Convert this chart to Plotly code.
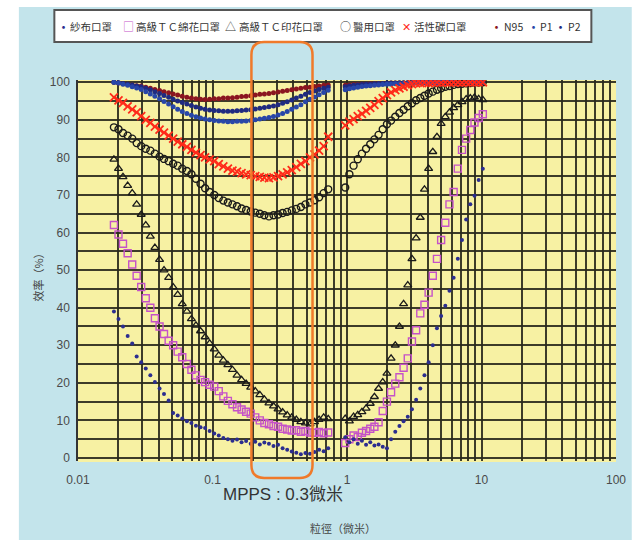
import plotly.graph_objects as go

# ---------------- data ----------------
X_LEFT = [0.0185, 0.0200, 0.0216, 0.0234, 0.0253, 0.0273, 0.0295, 0.0319, 0.0345, 0.0373, 0.0404, 0.0436,
          0.0472, 0.0510, 0.0551, 0.0596, 0.0645, 0.0697, 0.0753, 0.0815, 0.0881, 0.0952, 0.1030, 0.1113,
          0.1204, 0.1301, 0.1407, 0.1521, 0.1645, 0.1778, 0.1923, 0.2079, 0.2248, 0.2430, 0.2628, 0.2841,
          0.3072, 0.3321, 0.3591, 0.3883, 0.4198, 0.4539, 0.4907, 0.5306, 0.5737, 0.6203, 0.6706, 0.7251]
X_RIGHT = [0.970, 1.042, 1.119, 1.202, 1.291, 1.386, 1.489, 1.599, 1.717, 1.844, 1.981, 2.127,
           2.285, 2.454, 2.635, 2.830, 3.040, 3.265, 3.506, 3.766, 4.044, 4.344, 4.665, 5.010,
           5.381, 5.779, 6.207, 6.666, 7.160, 7.690, 8.258, 8.870, 9.526, 10.23]

GAUZE_L = [39.0, 37.0, 35.0, 32.5, 30.5, 27.0, 25.5, 23.8, 22.0, 20.2, 18.5, 17.0,
           15.3, 12.0, 11.3, 10.5, 9.8, 9.3, 8.6, 8.2, 8.0, 7.2, 6.5, 6.0,
           5.3, 5.0, 4.6, 4.9, 4.2, 4.5, 3.8, 4.3, 3.6, 4.1, 3.8, 3.2,
           3.5, 2.6, 2.2, 1.7, 1.4, 1.0, 1.3, 1.1, 1.6, 2.2, 1.8, 2.6]
GAUZE_R = [5.5, 4.2, 5.0, 3.8, 4.6, 3.5, 4.2, 3.3, 3.6, 3.0, 2.6, 5.0,
           7.0, 8.5, 9.8, 11.0, 13.0, 15.5, 18.5, 22.0, 25.5, 30.0, 34.5, 37.8,
           40.5, 44.5, 48.0, 53.0, 58.0, 63.5, 67.5, 69.8, 74.0, 77.0]

COTTON_L = [62.0, 59.5, 57.0, 54.5, 51.5, 48.5, 45.5, 42.5, 40.0, 37.2, 35.0, 33.0,
            31.2, 30.0, 28.3, 26.8, 25.0, 23.5, 22.0, 20.8, 20.2, 19.5, 19.0, 17.8,
            16.4, 15.2, 14.3, 13.5, 12.9, 12.3, 11.8, 10.8, 10.0, 9.3, 9.0, 8.5,
            8.3, 7.8, 7.6, 7.3, 7.4, 7.0, 7.2, 6.8, 6.7, 6.9, 6.6, 6.8]
COTTON_R = [4.0, 5.0, 6.0, 5.6, 6.7, 7.2, 7.8, 8.3, 9.5, 12.5, 15.0, 17.5,
            19.8, 21.5, 24.0, 26.5, 31.0, 34.0, 38.5, 40.8, 44.0, 48.5, 53.0, 58.0,
            62.6, 67.5, 70.8, 77.0, 82.0, 85.0, 87.3, 89.3, 90.5, 91.5]

PRINT_L = [79.5, 77.0, 74.8, 72.5, 70.5, 67.5, 64.8, 62.0, 59.0, 56.0, 52.8, 50.0,
           48.0, 45.5, 43.5, 41.0, 39.0, 37.0, 35.3, 33.8, 32.2, 30.5, 29.0, 27.3,
           26.0, 24.8, 23.5, 22.0, 20.8, 19.8, 18.8, 17.8, 16.8, 15.6, 14.6, 13.8,
           13.0, 12.2, 11.4, 10.8, 10.2, 9.6, 9.3, 9.0, 9.6, 10.2, 10.8, 10.4]
PRINT_R = [10.5, 9.8, 11.0, 11.5, 12.3, 13.2, 14.5, 16.3, 18.5, 20.2, 22.5, 26.5,
           30.0, 35.0, 41.0, 46.0, 53.0, 58.5, 64.0, 71.5, 77.0, 81.5, 85.5, 89.0,
           90.8, 92.0, 93.2, 94.0, 94.8, 95.5, 95.8, 96.0, 95.6, 95.3]

MEDICAL_L = [88.0, 87.5, 86.5, 85.8, 85.0, 83.8, 83.0, 82.3, 81.8, 81.0, 80.2, 79.6,
             79.0, 78.3, 77.8, 77.0, 76.4, 75.5, 74.3, 73.0, 71.8, 70.8, 70.0, 69.2,
             68.5, 68.0, 67.5, 67.0, 66.4, 66.0, 65.6, 65.3, 65.0, 64.6, 64.3, 64.6,
             64.8, 65.2, 65.5, 65.9, 66.3, 66.8, 67.5, 68.0, 68.6, 69.4, 70.5, 71.5]
MEDICAL_R = [72.0, 75.5, 77.8, 79.5, 81.0, 82.3, 83.5, 84.8, 86.0, 87.5, 88.8, 89.8,
             90.8, 91.8, 92.7, 93.6, 94.4, 95.2, 95.8, 96.4, 97.0, 97.5, 98.0, 98.4,
             98.8, 99.0, 99.3, 99.5, 99.6, 99.7, 99.8, 99.9, 99.9, 100.0]

CARBON_L = [96.0, 95.2, 94.5, 93.6, 92.8, 92.0, 91.0, 90.0, 89.2, 88.2, 87.4, 86.6,
            85.8, 85.0, 84.2, 83.5, 82.8, 82.0, 81.3, 80.6, 80.0, 79.5, 79.0, 78.2,
            77.6, 77.0, 76.5, 76.2, 75.8, 75.5, 75.3, 75.0, 74.8, 74.6, 74.5, 74.7,
            75.0, 75.5, 76.0, 76.6, 77.4, 78.3, 79.0, 80.0, 80.8, 81.8, 83.0, 85.5]
CARBON_R = [88.5, 89.5, 90.2, 91.0, 91.6, 92.4, 93.2, 94.0, 95.0, 95.8, 96.6, 97.3,
            97.9, 98.4, 98.8, 99.2, 99.5, 99.7, 99.8, 99.9, 99.8, 99.9, 100.0, 99.9,
            100.0, 99.9, 100.0, 100.0, 99.9, 100.0, 100.0, 100.0, 100.0, 100.0]

N95_L = [100.0, 99.8, 99.6, 99.5, 99.3, 99.1, 99.0, 98.7, 98.4, 98.1, 97.8, 97.5,
         97.2, 96.9, 96.6, 96.3, 96.0, 95.8, 95.6, 95.5, 95.4, 95.5, 95.6, 95.6,
         95.8, 95.8, 95.9, 96.0, 96.2, 96.3, 96.4, 96.6, 96.8, 96.9, 97.0, 97.2,
         97.4, 97.6, 97.8, 98.0, 98.2, 98.4, 98.6, 98.7, 98.9, 99.0, 99.2, 99.3]
N95_R = [99.2, 99.3, 99.4, 99.4, 99.5, 99.5, 99.6, 99.6, 99.7, 99.7, 99.7, 99.8,
         99.8, 99.8, 99.8, 99.9, 99.9, 99.9, 99.9, 99.9, 99.9, 100.0, 100.0, 100.0,
         100.0, 100.0, 100.0, 100.0, 100.0, 100.0, 100.0, 100.0, 100.0, 100.0]

P1_L = [100.0, 99.8, 99.5, 99.2, 98.8, 98.5, 98.1, 97.5, 96.9, 96.3, 95.6, 94.9,
        94.2, 93.5, 92.8, 92.2, 91.7, 91.2, 90.8, 90.5, 90.2, 90.0, 89.8, 89.7,
        89.6, 89.5, 89.5, 89.6, 89.6, 89.7, 89.8, 90.0, 90.2, 90.4, 90.6, 90.9,
        91.3, 91.7, 92.2, 92.8, 93.4, 94.0, 94.8, 95.5, 96.1, 96.7, 97.3, 97.9]
P1_R = [98.0, 98.3, 98.5, 98.7, 98.9, 99.0, 99.1, 99.2, 99.3, 99.4, 99.5, 99.5,
        99.6, 99.6, 99.7, 99.7, 99.8, 99.8, 99.8, 99.9, 99.9, 99.9, 99.9, 100.0,
        100.0, 100.0, 100.0, 100.0, 100.0, 100.0, 100.0, 100.0, 100.0, 100.0]

P2_L = [100.0, 99.9, 99.7, 99.5, 99.3, 99.0, 98.8, 98.4, 98.0, 97.5, 97.0, 96.5,
        96.0, 95.5, 95.0, 94.6, 94.2, 93.8, 93.4, 93.1, 92.8, 92.6, 92.5, 92.4,
        92.3, 92.3, 92.3, 92.4, 92.5, 92.6, 92.7, 92.9, 93.1, 93.3, 93.5, 93.7,
        94.0, 94.4, 94.8, 95.3, 95.8, 96.3, 96.8, 97.3, 97.7, 98.1, 98.4, 98.7]
P2_R = [98.8, 99.0, 99.2, 99.3, 99.4, 99.5, 99.5, 99.6, 99.7, 99.7, 99.8, 99.8,
        99.8, 99.9, 99.9, 99.9, 99.9, 100.0, 100.0, 100.0, 100.0, 100.0, 100.0, 100.0,
        100.0, 100.0, 100.0, 100.0, 100.0, 100.0, 100.0, 100.0, 100.0, 100.0]

SERIES_NAMES = ["紗布口罩", "高級ＴＣ綿花口罩", "高級ＴＣ印花口罩", "醫用口罩", "活性碳口罩", "N95", "P1", "P2"]

X_TICK_VALS = [0.01, 0.1, 1, 10, 100]
X_TICK_TEXT = ["0.01", "0.1", "1", "10", "100"]
Y_TICK_VALS = [0, 10, 20, 30, 40, 50, 60, 70, 80, 90, 100]

# ---------------- geometry helpers (decorations only) ----------------
W, H = 638, 541
ML, MR, MT, MB = 78, 14, 80, 80
PW, PH = W - ML - MR, H - MT - MB


def pxx(x):
    return (x - ML) / PW


def pyy(y):
    return (H - MB - y) / PH


NUM_FONT = "Liberation Sans Narrow, Liberation Sans, Arial, sans-serif"
CJK_FONT = "Noto Sans CJK TC, Noto Sans CJK SC, sans-serif"
GRID = "rgba(40,40,28,0.9)"

fig = go.Figure()

styles = [
    dict(symbol="circle", size=4, color="#2b2d8f"),
    dict(symbol="square-open", size=7, color="#c552c8", line=dict(width=1.4, color="#c552c8")),
    dict(symbol="triangle-up-open", size=7, color="#1a1a1a", line=dict(width=1.3, color="#1a1a1a")),
    dict(symbol="circle-open", size=7, color="#1a1a1a", line=dict(width=1.4, color="#1a1a1a")),
    dict(symbol="x-thin-open", size=8, color="#ff2a1a", line=dict(width=1.8, color="#ff2a1a")),
    dict(symbol="circle", size=5, color="#8b1520"),
    dict(symbol="circle", size=5, color="#2846a8"),
    dict(symbol="circle", size=5, color="#1f2a80"),
]
series_y = [
    (GAUZE_L, GAUZE_R), (COTTON_L, COTTON_R), (PRINT_L, PRINT_R), (MEDICAL_L, MEDICAL_R),
    (CARBON_L, CARBON_R), (N95_L, N95_R), (P1_L, P1_R), (P2_L, P2_R),
]
draw_order = [5, 7, 6, 3, 4, 2, 1, 0]
for k in draw_order:
    yl, yr = series_y[k]
    fig.add_trace(go.Scatter(
        x=X_LEFT + X_RIGHT, y=yl + yr, mode="markers", name=SERIES_NAMES[k],
        marker=styles[k], showlegend=False, hoverinfo="x+y+name"))

# grid positions: decades plus 2..9 multiples
x_grid = []
for d in X_TICK_VALS[:-1]:
    for m in range(1, 10):
        x_grid.append(d * m)
x_grid.append(X_TICK_VALS[-1])
x_text = []
for v in x_grid:
    lab = ""
    for tv, tt in zip(X_TICK_VALS, X_TICK_TEXT):
        if abs(v - tv) < 1e-9 * max(1, tv):
            lab = tt
    x_text.append(lab)

y_grid = list(range(0, 101, 5))
y_text = [str(v) if v in Y_TICK_VALS else "" for v in y_grid]

fig.update_xaxes(type="log", range=[-2, 2], tickvals=x_grid, ticktext=x_text,
                 showgrid=True, gridcolor=GRID, gridwidth=2, zeroline=False,
                 showline=False, ticks="", ticklabelstandoff=10,
                 tickfont=dict(family=NUM_FONT, size=12, color="#4a4a4a"))
fig.update_yaxes(range=[-0.8, 100.6], tickvals=y_grid, ticktext=y_text,
                 showgrid=True, gridcolor=GRID, gridwidth=2, zeroline=False,
                 showline=True, linecolor="#333", linewidth=1.5, ticks="",
                 ticklabelstandoff=4,
                 tickfont=dict(family=NUM_FONT, size=12, color="#4a4a4a"))

shapes = []
# light-blue panel
shapes.append(dict(type="rect", xref="paper", yref="paper", x0=pxx(18), x1=pxx(640),
                   y0=pyy(540), y1=pyy(7), fillcolor="#c3e4eb", line=dict(width=0), layer="below"))
# yellow plotting area
shapes.append(dict(type="rect", xref="paper", yref="paper", x0=0, x1=1,
                   y0=pyy(462), y1=pyy(80), fillcolor="#f7f1a3", line=dict(width=0), layer="below"))
# legend box
shapes.append(dict(type="rect", xref="paper", yref="paper", x0=pxx(54), x1=pxx(599),
                   y0=pyy(42), y1=pyy(10), fillcolor="white", line=dict(width=2, color="#555"),
                   layer="above"))
# orange rounded highlight rectangle
x0, x1, yt, yb = pxx(254), pxx(316), pyy(42), pyy(478)
rx, ry = 13 / PW, 13 / PH
path = (f"M {x0 + rx},{yt} L {x1 - rx},{yt} Q {x1},{yt} {x1},{yt - ry} "
        f"L {x1},{yb + ry} Q {x1},{yb} {x1 - rx},{yb} L {x0 + rx},{yb} "
        f"Q {x0},{yb} {x0},{yb + ry} L {x0},{yt - ry} Q {x0},{yt} {x0 + rx},{yt} Z")
shapes.append(dict(type="path", xref="paper", yref="paper", path=path,
                   line=dict(color="#f07a2a", width=2.5), layer="above"))

annotations = []
# custom legend
leg_sym = ["•", "□", "△", "○", "✕", "•", "•", "•"]
leg_col = ["#2b2d8f", "#c552c8", "#333", "#333", "#ff2a1a", "#8b1520", "#2846a8", "#1f2a80"]
leg_sym_x = [63, 129, 233, 349, 411, 503, 540, 568]
leg_txt_x = [68, 135, 239, 355, 417, 508, 545, 573]
ly = pyy(26)
for s, c, sx, tx, name in zip(leg_sym, leg_col, leg_sym_x, leg_txt_x, SERIES_NAMES):
    annotations.append(dict(xref="paper", yref="paper", x=pxx(sx), y=ly, text=s, showarrow=False,
                            xanchor="center", yanchor="middle",
                            font=dict(family=CJK_FONT, size=13 if s == "•" else 11, color=c)))
    annotations.append(dict(xref="paper", yref="paper", x=pxx(tx), y=ly, text=name, showarrow=False,
                            xanchor="left", yanchor="middle",
                            font=dict(family=CJK_FONT, size=10.5, color="#333")))

annotations.append(dict(xref="paper", yref="paper", x=pxx(286), y=pyy(494), text="MPPS : 0.3微米",
                        showarrow=False, xanchor="center", yanchor="middle",
                        font=dict(family="Liberation Sans, Noto Sans CJK TC, sans-serif", size=17, color="#333")))
annotations.append(dict(xref="paper", yref="paper", x=pxx(347), y=pyy(528), text="粒徑（微米）",
                        showarrow=False, xanchor="center", yanchor="middle",
                        font=dict(family=CJK_FONT, size=11, color="#444")))
annotations.append(dict(xref="paper", yref="paper", x=pxx(37), y=pyy(275), text="效率（%）",
                        showarrow=False, xanchor="center", yanchor="middle", textangle=-90,
                        font=dict(family=CJK_FONT, size=11, color="#444")))

fig.update_layout(width=W, height=H, margin=dict(l=ML, r=MR, t=MT, b=MB),
                  paper_bgcolor="white", plot_bgcolor="#f7f1a3",
                  shapes=shapes, annotations=annotations, showlegend=False)

fig.write_html("out.html", config={"displayModeBar": False},
               post_script="document.body.style.margin='0';")
